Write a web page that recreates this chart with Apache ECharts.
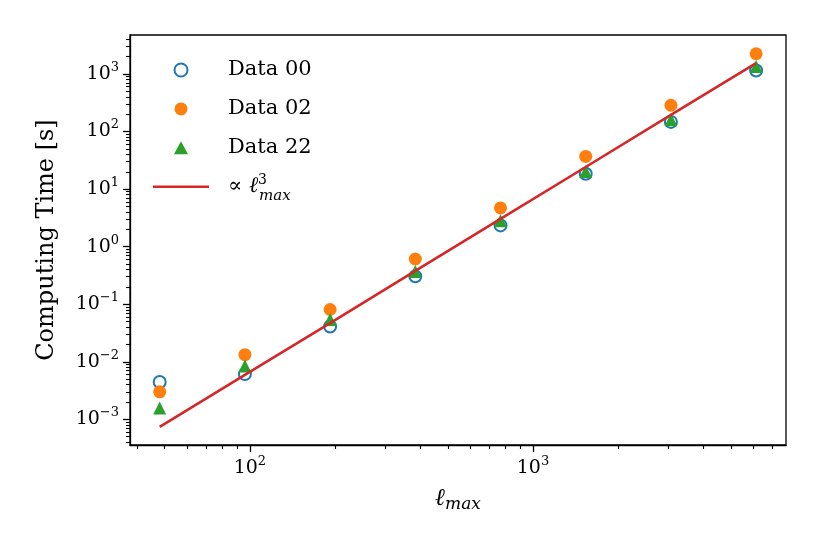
<!DOCTYPE html>
<html>
<head>
<meta charset="utf-8">
<script src="https://cdn.jsdelivr.net/npm/echarts@6/dist/echarts.min.js"></script>
<style>
  html, body { margin: 0; padding: 0; background: #fff; }
  #main { width: 822px; height: 548px; }
</style>
</head>
<body>
<div id="main"></div>
<script>
    // values
    var lmax = [48, 96, 192, 384, 768, 1536, 3072, 6144];
    var data00 = [4.45e-3, 6.1e-3, 0.041, 0.305, 2.34, 18.5, 147, 1150];
    var data02 = [3.0e-3, 0.0133, 0.081, 0.61, 4.7, 37, 286, 2245];
    var data22 = [1.58e-3, 8.4e-3, 0.054, 0.37, 2.82, 20.3, 161, 1350];
    var fit = [7.4e-4, 5.9e-3, 0.047, 0.38, 3.03, 24.2, 194, 1550];

    var xMajor = [100, 1000];
    var xMinor = [40, 50, 60, 70, 80, 90, 200, 300, 400, 500, 600, 700, 800, 900,
        2000, 3000, 4000, 5000, 6000, 7000];
    var yMajor = [1e-3, 1e-2, 1e-1, 1, 10, 100, 1000];
    var yMinor = [4e-4, 5e-4, 6e-4, 7e-4, 8e-4, 9e-4,
        2e-3, 3e-3, 4e-3, 5e-3, 6e-3, 7e-3, 8e-3, 9e-3,
        0.02, 0.03, 0.04, 0.05, 0.06, 0.07, 0.08, 0.09,
        0.2, 0.3, 0.4, 0.5, 0.6, 0.7, 0.8, 0.9,
        2, 3, 4, 5, 6, 7, 8, 9,
        20, 30, 40, 50, 60, 70, 80, 90,
        200, 300, 400, 500, 600, 700, 800, 900,
        2000, 3000, 4000];

    var font = 'DejaVu Serif';
    function pairs(ys) {
        var out = [];
        for (let i = 0; i < lmax.length; i++) {
            out.push([lmax[i], ys[i]]);
        }
        return out;
    }
    function powLabel(v) {
        var e = Math.round(Math.log10(v));
        return '{b|10}{s|' + String(e).replace('-', '\u2212') + '}';
    }
    var powRich = {
        b: { fontFamily: font, fontSize: 19, color: '#000', lineHeight: 26 },
        s: { fontFamily: font, fontSize: 13, color: '#000', lineHeight: 14, verticalAlign: 'top' }
    };

    var xRange = { min: 37.7, max: 7834 };
    var yRange = { min: 3.58e-4, max: 4755 };

    var chart = echarts.init(document.getElementById('main'));
    chart.setOption({
        animation: false,
        grid: {
            left: 130, right: 36, top: 35, bottom: 103,
            show: true, borderColor: '#000', borderWidth: 1.3
        },
        legend: {
            orient: 'vertical',
            left: 148,
            top: 52,
            itemWidth: 56,
            itemHeight: 13,
            itemGap: 12.9,
            symbolKeepAspect: true,
            data: [
                { name: 'Data 00' },
                { name: 'Data 02' },
                { name: 'Data 22', icon: 'path://M6.5,0L13,12L0,12Z' },
                { name: 'fit', icon: 'path://M0,0L56,0L56,2.6L0,2.6Z' }
            ],
            formatter: function (name) {
                if (name === 'fit') {
                    return '{n|\u221d }{i|\u2113}{sup|3}{sub|max}';
                }
                return name;
            },
            textStyle: {
                fontFamily: font,
                fontSize: 21,
                color: '#000',
                lineHeight: 26,
                padding: [0, 0, 0, 14],
                rich: {
                    n: { fontFamily: font, fontSize: 21, lineHeight: 26 },
                    i: { fontFamily: font, fontSize: 22, fontStyle: 'italic', lineHeight: 26 },
                    sup: { fontFamily: font, fontSize: 14, lineHeight: 14, verticalAlign: 'top', width: 1 },
                    sub: { fontFamily: font, fontSize: 15, fontStyle: 'italic', lineHeight: 14, verticalAlign: 'bottom', padding: [0, 0, -4, 0] }
                }
            }
        },
        xAxis: [{
            type: 'log',
            min: xRange.min,
            max: xRange.max,
            name: '{i|\u2113}{sub|max}',
            nameLocation: 'middle',
            nameGap: 40,
            nameTextStyle: {
                rich: {
                    i: { fontFamily: font, fontSize: 24, fontStyle: 'italic', lineHeight: 28 },
                    sub: { fontFamily: font, fontSize: 17, fontStyle: 'italic', lineHeight: 16, verticalAlign: 'bottom' }
                }
            },
            axisLine: { lineStyle: { color: '#000', width: 1.3 } },
            axisTick: { customValues: xMajor, length: 7, lineStyle: { color: '#000', width: 1.3 } },
            axisLabel: { customValues: xMajor, margin: 10, formatter: powLabel, rich: powRich },
            splitLine: { show: false }
        }, {
            type: 'log',
            min: xRange.min,
            max: xRange.max,
            position: 'bottom',
            axisLine: { show: false },
            axisTick: { customValues: xMinor, length: 4, lineStyle: { color: '#000', width: 1.1 } },
            axisLabel: { show: false },
            splitLine: { show: false }
        }],
        yAxis: [{
            type: 'log',
            min: yRange.min,
            max: yRange.max,
            name: 'Computing Time [s]',
            nameLocation: 'middle',
            nameRotate: 90,
            nameGap: 71,
            nameTextStyle: { fontFamily: font, fontSize: 24, color: '#000' },
            axisLine: { lineStyle: { color: '#000', width: 1.3 } },
            axisTick: { customValues: yMajor, length: 7, lineStyle: { color: '#000', width: 1.3 } },
            axisLabel: { customValues: yMajor, margin: 11, formatter: powLabel, rich: powRich },
            splitLine: { show: false }
        }, {
            type: 'log',
            min: yRange.min,
            max: yRange.max,
            position: 'left',
            axisLine: { show: false },
            axisTick: { customValues: yMinor, length: 4, lineStyle: { color: '#000', width: 1.1 } },
            axisLabel: { show: false },
            splitLine: { show: false }
        }],
        series: [{
            name: 'Data 00',
            type: 'scatter',
            symbol: 'circle',
            symbolSize: 12,
            data: pairs(data00),
            itemStyle: { color: 'rgba(255,255,255,0)', borderColor: '#1f77b4', borderWidth: 2, opacity: 1 }
        }, {
            name: 'Data 02',
            type: 'scatter',
            symbol: 'circle',
            symbolSize: 13,
            data: pairs(data02),
            itemStyle: { color: '#ff7f0e', opacity: 1 }
        }, {
            name: 'Data 22',
            type: 'scatter',
            symbol: 'triangle',
            symbolSize: 13,
            data: pairs(data22),
            itemStyle: { color: '#2ca02c', opacity: 1 }
        }, {
            name: 'fit',
            type: 'line',
            symbol: 'none',
            data: pairs(fit),
            lineStyle: { color: '#d62728', width: 2.6 },
            itemStyle: { color: '#d62728' }
        }]
    });
</script>
</body>
</html>
